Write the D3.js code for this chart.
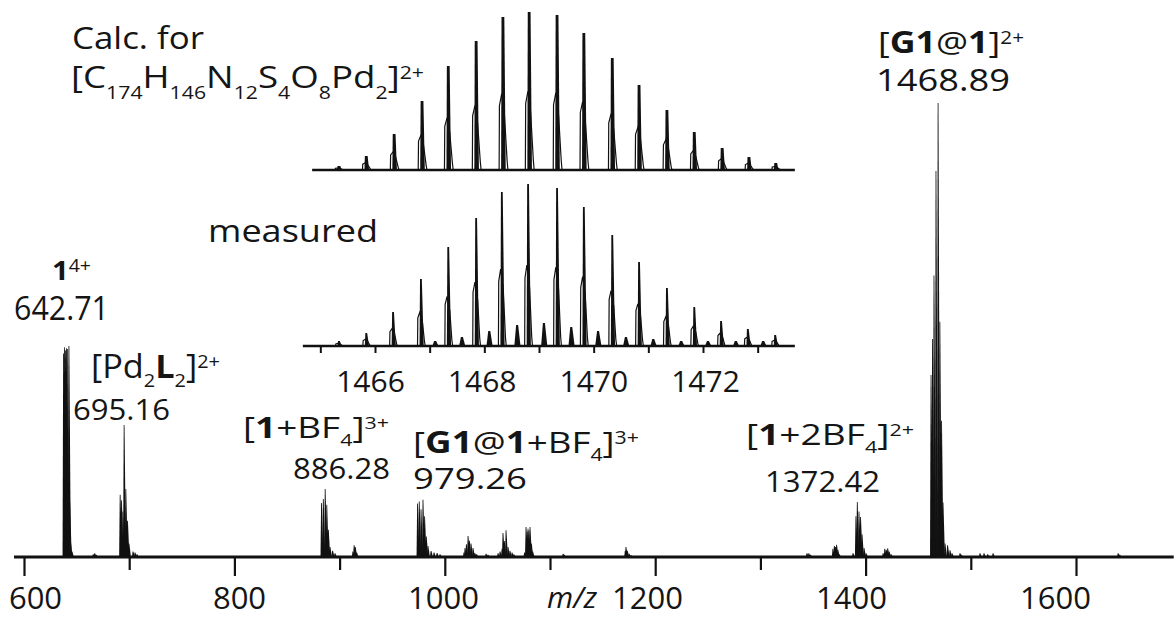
<!DOCTYPE html>
<html>
<head>
<meta charset="utf-8">
<script src="https://cdn.jsdelivr.net/npm/d3@7"></script>
<style>
  html, body { margin: 0; padding: 0; background: #fff; }
  text { font-family: "Open Sans", "DejaVu Sans", sans-serif; fill: #151515; }
</style>
</head>
<body>
<svg id="chart" width="1174" height="617"></svg>
<script>
// ---------- full-range spectrum: peak clusters as [m/z, relative intensity %] ----------
const cagePeaks = [[637.6,44.8],[638.5,46.2],[639.4,45.5],[640.4,46.0],[641.5,45.8],[642.71,46.5],[643.5,12],[644.4,3],[645.6,1.2]];
const minor667 = [[665.8,0.6],[667.2,0.8],[668.6,0.5]];
const pd2l2Peaks = [[691.4,13.7],[692.7,12.5],[694.0,10],[695.16,29.1],[696.8,15],[698.4,8],[699.8,3],[703.6,1.2],[705.5,1.0],[707.4,0.6]];
const cageBF4Peaks = [[882.8,11.9],[884.5,12.8],[886.28,15.0],[887.8,11.5],[889.3,6],[890.9,2.2],[893.3,1.4],[895.6,0.8]];
const minor914 = [[912.6,1.2],[913.8,2.6],[914.9,2.2],[916.2,1.0]];
const hostGuestBF4Peaks = [[974.1,11.8],[975.7,12.2],[977.4,10.5],[979.26,12.6],[980.8,9],[982.4,4.5],[984.0,2.4],[986.9,1.3],[989.7,1.0],[992.6,0.9],[995.4,0.6]];
const minor1022 = [[1018.2,1.0],[1019.2,2.0],[1020.5,2.8],[1022.1,4.6],[1023.4,3.6],[1024.9,3.0],[1026.8,2.0],[1028.5,0.9],[1030.2,0.6]];
const minor1039 = [[1039.2,0.7],[1041.0,0.5]];
const minor1056 = [[1050.6,0.8],[1052.5,1.2],[1054.4,1.8],[1055.3,5.3],[1056.6,3.5],[1058.2,5.9],[1060.1,2.2],[1061.9,1.4],[1063.9,1.0],[1065.6,0.6]];
const minor1079 = [[1075.8,1.0],[1077.2,6.6],[1078.3,5.6],[1079.1,6.2],[1080.0,5.8],[1081.0,6.6],[1082.3,3.0],[1083.5,1.2]];
const minor1112 = [[1112.4,0.7],[1113.5,0.5]];
const minor1172 = [[1171.5,1.4],[1172.2,2.2],[1173.5,1.4],[1175.2,0.7],[1177.0,0.4]];
const minor1345 = [[1344.2,0.8],[1346.0,0.8],[1347.5,0.5]];
const cage2BF4Peaks = [[1368.9,1.8],[1370.3,2.4],[1371.4,2.2],[1372.42,2.7],[1373.6,1.6],[1374.9,0.6]];
const peaks1392 = [[1388.0,0.8],[1390.8,9],[1392.1,12.1],[1393.7,10],[1395.2,8.8],[1396.6,5],[1398.5,2],[1400.4,0.8]];
const minor1420 = [[1416.6,0.8],[1418.2,1.8],[1419.6,1.6],[1421.0,1.9],[1422.4,1.2],[1424.2,0.6]];
const hostGuestPeaks = [[1462.2,40.1],[1463.6,48],[1465.0,62],[1466.9,85],[1468.89,100],[1470.6,51.8],[1472.2,30],[1473.6,12],[1475.5,3],[1477.9,2.6],[1480.2,1.5],[1482.1,0.8]];
const minor1490 = [[1489.7,0.8],[1491.0,0.5]];
const minor1515 = [[1508.7,0.8],[1512.5,0.8],[1516.0,0.6],[1521.1,0.8]];
const minor1640 = [[1640.0,0.8],[1641.5,0.5]];

const spectrumClusters = [cagePeaks, minor667, pd2l2Peaks, cageBF4Peaks, minor914, hostGuestBF4Peaks,
  minor1022, minor1039, minor1056, minor1079, minor1112, minor1172, minor1345, cage2BF4Peaks,
  peaks1392, minor1420, hostGuestPeaks, minor1490, minor1515, minor1640];

const mainTicksMajor = [600, 800, 1000, 1200, 1400, 1600];
const mainTicksMinor = [700, 900, 1100, 1300, 1500];
const mainSpan = [590.5, 1692.9];

// ---------- isotope pattern of [G1@1]2+ : calculated and measured ----------
const calcMz  = [1465.34,1465.84,1466.35,1466.86,1467.34,1467.85,1468.34,1468.82,1469.33,1469.82,1470.34,1470.83,1471.34,1471.84,1472.35,1472.84,1473.33];
const calcInt = [2.5,8.9,22.8,43.7,65.8,81.6,96.8,100,98.1,86.7,70.9,53.8,38.0,24.1,13.9,8.2,4.4];
const measMz  = [1465.34,1465.84,1466.33,1466.84,1467.34,1467.85,1468.32,1468.80,1469.33,1469.82,1470.34,1470.83,1471.34,1471.84,1472.33,1472.82,1473.32];
const measInt = [3.1,8.0,21.0,41.4,61.1,79.0,95.1,100,97.5,85.8,68.5,51.9,35.8,24.1,15.4,10.5,6.8];
const measMinorMz  = [1467.10,1467.59,1468.09,1468.60,1469.09,1469.59,1470.08,1470.59,1471.09,1471.60,1472.09,1472.60,1473.10];
const measMinorInt = [3.1,5.6,9.3,13.0,14.2,11.7,9.3,5.6,4.3,3.1,3.1,3.1,3.1];

const insetTicks = [1465,1466,1467,1468,1469,1470,1471,1472,1473];
const insetTickLabels = [1466,1468,1470,1472];
const calcSpan = [1464.85, 1473.68];
const measSpan = [1464.68, 1473.68];

// ---------- scales ----------
const svg = d3.select("#chart");
const xMain = d3.scaleLinear().domain([600, 1600]).range([24, 1076]);
// tick numbers sit on a slightly tighter pitch than the tick marks
const xMainLabel = d3.scaleLinear().domain([600, 1600]).range([35, 1055]);
const yMain = d3.scaleLinear().domain([0, 100]).range([557, 103]);
const xIn = d3.scaleLinear().domain([1466, 1472]).range([375, 703]);
const xInLabel = d3.scaleLinear().domain([1466, 1472]).range([370, 705]);
const yCalc = d3.scaleLinear().domain([0, 100]).range([170, 12]);
const yMeas = d3.scaleLinear().domain([0, 100]).range([346, 184]);

// narrow spike with a slightly longer trailing edge
function spike(x, y0, y1, wl, wr, wt) {
  return `M${x - wl},${y0}L${x - wt / 2},${y1}L${x + wt / 2},${y1}L${x + wr},${y0}Z`;
}
// outlined profile under an isotope stick
function hump(x, y0, y1, left, right) {
  const h = y0 - y1;
  return `M${x - left},${y0}L${x - left + 0.3},${y0 - 0.42 * h}L${x - 1.2},${y0 - 0.5 * h}` +
         `L${x + 1.5},${y0 - 0.36 * h}L${x + right - 0.8},${y0 - 0.06 * h}L${x + right},${y0}`;
}

// ---------- main spectrum ----------
const gSpec = svg.append("g");
spectrumClusters.forEach(cluster => {
  gSpec.selectAll(null).data(cluster).enter().append("path")
    .attr("d", d => spike(xMain(d[0]), yMain(0), yMain(d[1]), 1.0, 1.9, 0.8))
    .attr("fill", "#111");
});

// main axis
svg.append("line")
  .attr("x1", xMain(mainSpan[0])).attr("x2", xMain(mainSpan[1]))
  .attr("y1", yMain(0)).attr("y2", yMain(0))
  .attr("stroke", "#111").attr("stroke-width", 2.8);

const axMajor = svg.append("g").attr("transform", `translate(0,${yMain(0)})`)
  .call(d3.axisBottom(xMain).tickValues(mainTicksMajor).tickSize(19).tickFormat(""));
const axMinor = svg.append("g").attr("transform", `translate(0,${yMain(0)})`)
  .call(d3.axisBottom(xMain).tickValues(mainTicksMinor).tickSize(13).tickFormat(""));
[axMajor, axMinor].forEach(g => {
  g.select(".domain").remove();
  g.selectAll(".tick line").attr("stroke", "#111").attr("stroke-width", 2.2);
});
const axLabels = svg.append("g").attr("transform", `translate(0,${yMain(0)})`)
  .call(d3.axisBottom(xMainLabel).tickValues(mainTicksMajor).tickSize(0).tickFormat(d3.format("d")));
axLabels.select(".domain").remove();
axLabels.selectAll(".tick line").remove();
axLabels.selectAll(".tick text")
  .attr("y", 52).attr("dy", 0)
  .attr("font-size", 31).attr("font-family", "Open Sans").attr("fill", "#151515");

svg.append("text").attr("x", 547).attr("y", 608)
  .attr("font-size", 30).attr("font-style", "italic").text("m/z");

// ---------- isotope insets ----------
function drawInset(mz, inten, yS, base, opt) {
  const g = svg.append("g");
  g.selectAll(null).data(d3.zip(mz, inten)).enter().append("path")
    .attr("d", d => hump(xIn(d[0]), base, yS(d[1]), opt.hl, opt.hr))
    .attr("fill", "#fff").attr("stroke", "#111").attr("stroke-width", 1.2);
  g.selectAll(null).data(d3.zip(mz, inten)).enter().append("path")
    .attr("d", d => spike(xIn(d[0]), base, yS(d[1]), opt.wl, opt.wr, opt.wt))
    .attr("fill", "#111");
  return g;
}

// calculated pattern
drawInset(calcMz, calcInt, yCalc, yCalc(0), { hl: 3.8, hr: 5.0, wl: 1.8, wr: 2.8, wt: 2.8 });
svg.append("line")
  .attr("x1", xIn(calcSpan[0])).attr("x2", xIn(calcSpan[1]))
  .attr("y1", yCalc(0)).attr("y2", yCalc(0))
  .attr("stroke", "#111").attr("stroke-width", 2.4);

// measured pattern
const gMinor = svg.append("g");
gMinor.selectAll(null).data(d3.zip(measMinorMz, measMinorInt)).enter().append("path")
  .attr("d", d => spike(xIn(d[0]), yMeas(0), yMeas(d[1]), 2.8, 3.4, 2.0))
  .attr("fill", "#111");
drawInset(measMz, measInt, yMeas, yMeas(0), { hl: 3.4, hr: 4.4, wl: 1.4, wr: 2.8, wt: 1.8 });
svg.append("line")
  .attr("x1", xIn(measSpan[0])).attr("x2", xIn(measSpan[1]))
  .attr("y1", yMeas(0)).attr("y2", yMeas(0))
  .attr("stroke", "#111").attr("stroke-width", 2.4);

const axIn = svg.append("g").attr("transform", `translate(0,${yMeas(0)})`)
  .call(d3.axisBottom(xIn).tickValues(insetTicks).tickSize(7).tickFormat(""));
axIn.select(".domain").remove();
axIn.selectAll(".tick line").attr("stroke", "#111").attr("stroke-width", 2);
const axInLabels = svg.append("g").attr("transform", `translate(0,${yMeas(0)})`)
  .call(d3.axisBottom(xInLabel).tickValues(insetTickLabels).tickSize(0).tickFormat(d3.format("d")));
axInLabels.select(".domain").remove();
axInLabels.selectAll(".tick line").remove();
axInLabels.selectAll(".tick text").attr("y", 46).attr("dy", 0)
  .attr("font-size", 30).attr("font-family", "Open Sans").attr("fill", "#151515");

// ---------- labels ----------
function richText(x, y, size, segs, width, opts = {}) {
  const t = svg.append("text").attr("x", x).attr("y", y).attr("font-size", size);
  const small = opts.small || size * 0.58;
  const subShift = opts.sub || 0.28;
  let off = 0;
  segs.forEach(([s, k = ""]) => {
    const ts = t.append("tspan").text(s);
    let target = 0;
    if (k.includes("_")) target = size * subShift;
    if (k.includes("^")) target = -size * 0.3;
    ts.attr("dy", target - off);
    off = target;
    if (target !== 0) ts.attr("font-size", small);
    if (k.includes("b")) ts.attr("font-weight", 700);
  });
  if (width) t.attr("textLength", width).attr("lengthAdjust", "spacingAndGlyphs");
  return t;
}
const fmt = d3.format(".2f");

richText(72, 49, 31, [["Calc. for"]], 132);
richText(71, 88, 31, [["[C"],["174","_"],["H"],["146","_"],["N"],["12","_"],["S"],["4","_"],["O"],["8","_"],["Pd"],["2","_"],["]"],["2+","^"]], 353, { sub: 0.36 });
richText(208, 242, 31, [["measured"]], 170);

richText(52, 280, 27, [["1","b"],["4+","^"]], 39, { small: 18 });
richText(14, 320, 32, [[fmt(cagePeaks[5][0])]], 95);

richText(91, 378, 32, [["[Pd"],["2","_"],["L","b"],["2","_"],["]"],["2+","^"]], 129);
richText(73, 420, 30, [[fmt(pd2l2Peaks[3][0])]], 97);

richText(243, 438, 29, [["["],["1","b"],["+BF"],["4","_"],["]"],["3+","^"]], 146);
richText(293, 479, 30, [[fmt(cageBF4Peaks[2][0])]], 97);

richText(413, 453, 30, [["["],["G1","b"],["@"],["1","b"],["+BF"],["4","_"],["]"],["3+","^"]], 226);
richText(413, 489, 30, [[fmt(hostGuestBF4Peaks[3][0])]], 114);

richText(746, 445, 29, [["["],["1","b"],["+2BF"],["4","_"],["]"],["2+","^"]], 168);
richText(765, 492, 30, [[fmt(cage2BF4Peaks[3][0])]], 115);

richText(878, 53, 30, [["["],["G1","b"],["@"],["1","b"],["]"],["2+","^"]], 146);
richText(876, 91, 31, [[fmt(hostGuestPeaks[4][0])]], 134);
</script>
</body>
</html>
